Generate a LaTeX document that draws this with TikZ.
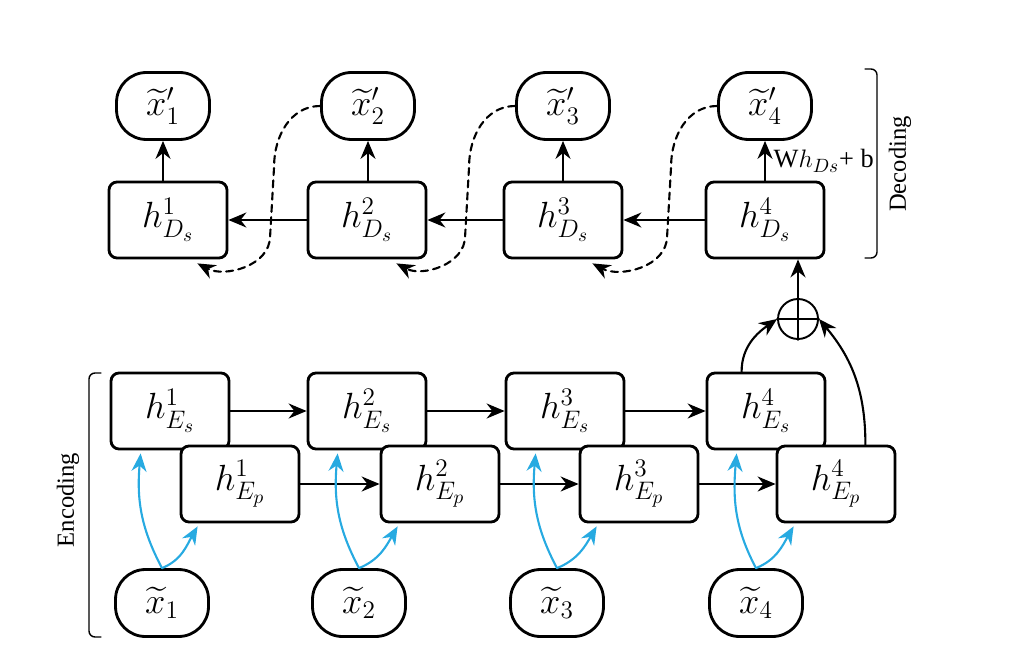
\documentclass[tikz,border=0pt]{standalone}
\usepackage{amsmath}
\usepackage{fontspec}
\setmainfont{Liberation Serif}
\usetikzlibrary{arrows.meta,calc}
\definecolor{skyblue}{RGB}{39,170,225}

\begin{document}
\begin{tikzpicture}[x=0.02cm,y=-0.02cm,line cap=round,line join=round,
    hbox/.style={draw,line width=1.6pt,rounded corners=0.16cm,fill=white,
      minimum width=2.36cm,minimum height=1.52cm,inner sep=0pt,
      font=\fontsize{21}{25}\selectfont},
    xnode/.style={draw,line width=1.6pt,rounded corners=0.6cm,fill=white,
      minimum width=1.86cm,minimum height=1.34cm,inner sep=0pt,
      font=\fontsize{21}{25}\selectfont},
    arr/.style={-{Stealth[length=0.36cm,width=0.3cm]},line width=1.2pt},
    inarr/.style={arr,skyblue},
    back/.style={arr,dash pattern=on 4pt off 3pt}]
  \useasboundingbox (0,0) rectangle (1026,658);

  % --- decoder: outputs and hidden states ---
  \node[xnode] (o1) at (163,106) {$\widetilde{x}'_{1}$};
  \node[xnode] (o2) at (368,106) {$\widetilde{x}'_{2}$};
  \node[xnode] (o3) at (563,106) {$\widetilde{x}'_{3}$};
  \node[xnode] (o4) at (765,106) {$\widetilde{x}'_{4}$};
  \node[hbox] (d1) at (168,220) {$h^{1}_{D_s}$};
  \node[hbox] (d2) at (367,220) {$h^{2}_{D_s}$};
  \node[hbox] (d3) at (563,220) {$h^{3}_{D_s}$};
  \node[hbox] (d4) at (765,220) {$h^{4}_{D_s}$};

  % --- encoder: two chains and inputs ---
  \node[hbox] (es1) at (170,411) {$h^{1}_{E_s}$};
  \node[hbox] (es2) at (367,411) {$h^{2}_{E_s}$};
  \node[hbox] (es3) at (565,411) {$h^{3}_{E_s}$};
  \node[hbox] (es4) at (766,411) {$h^{4}_{E_s}$};
  \node[hbox] (ep1) at (240,484) {$h^{1}_{E_p}$};
  \node[hbox] (ep2) at (440,484) {$h^{2}_{E_p}$};
  \node[hbox] (ep3) at (639,484) {$h^{3}_{E_p}$};
  \node[hbox] (ep4) at (836,484) {$h^{4}_{E_p}$};
  \node[xnode] (x1) at (162,603) {$\widetilde{x}_{1}$};
  \node[xnode] (x2) at (359,603) {$\widetilde{x}_{2}$};
  \node[xnode] (x3) at (557,603) {$\widetilde{x}_{3}$};
  \node[xnode] (x4) at (756,603) {$\widetilde{x}_{4}$};

  % --- sum of the last encoder states ---
  \node[draw,circle,line width=1.1pt,minimum size=0.8cm,inner sep=0pt] (plus) at (798,319) {};
  \draw[line width=1.1pt] (plus.north) -- (plus.south) (plus.west) -- (plus.east);

  % --- encoder chains ---
  \draw[arr] (es1.east) -- (es2.west);
  \draw[arr] (es2.east) -- (es3.west);
  \draw[arr] (es3.east) -- (es4.west);
  \draw[arr] (ep1.east) -- (ep2.west);
  \draw[arr] (ep2.east) -- (ep3.west);
  \draw[arr] (ep3.east) -- (ep4.west);

  % --- inputs feed both chains ---
  \draw[inarr] (x1.north) to[out=118,in=-95] ($(es1.south west)+(31,3)$);
  \draw[inarr] (x1.north) to[out=22,in=240] ($(ep1.south west)+(18,3)$);
  \draw[inarr] (x2.north) to[out=118,in=-95] ($(es2.south west)+(31,3)$);
  \draw[inarr] (x2.north) to[out=22,in=240] ($(ep2.south west)+(18,3)$);
  \draw[inarr] (x3.north) to[out=118,in=-95] ($(es3.south west)+(31,3)$);
  \draw[inarr] (x3.north) to[out=22,in=240] ($(ep3.south west)+(18,3)$);
  \draw[inarr] (x4.north) to[out=118,in=-95] ($(es4.south west)+(31,3)$);
  \draw[inarr] (x4.north) to[out=22,in=240] ($(ep4.south west)+(18,3)$);

  % --- encoder to decoder ---
  \draw[arr] ($(es4.north west)+(36,0)$) to[out=90,in=215] (plus.west);
  \draw[arr] ($(ep4.north east)+(-31,0)$) to[out=90,in=-50] (plus.east);
  \draw[arr] (plus.north) -- (plus.north |- d4.south);

  % --- decoder chain, right to left ---
  \draw[arr] (d4.west) -- (d3.east);
  \draw[arr] (d3.west) -- (d2.east);
  \draw[arr] (d2.west) -- (d1.east);
  \draw[arr] (d1.north -| o1.south) -- (o1.south);
  \draw[arr] (d2.north -| o2.south) -- (o2.south);
  \draw[arr] (d3.north -| o3.south) -- (o3.south);
  \draw[arr] (d4.north -| o4.south) -- (o4.south)
        node[midway,right=1pt,font=\fontsize{15}{18}\selectfont]{W$h_{Ds}$+ b};

  % --- outputs fed back ---
  \draw[back] (o2.west) to[out=180,in=90] ($(o2.west)+(-46,60)$) -- ($(o2.west)+(-50,130)$)
        to[out=-90,in=-28] ($(d1.south east)+(-31,4)$);
  \draw[back] (o3.west) to[out=180,in=90] ($(o3.west)+(-46,60)$) -- ($(o3.west)+(-50,130)$)
        to[out=-90,in=-28] ($(d2.south east)+(-31,4)$);
  \draw[back] (o4.west) to[out=180,in=90] ($(o4.west)+(-46,60)$) -- ($(o4.west)+(-50,130)$)
        to[out=-90,in=-28] ($(d3.south east)+(-31,4)$);

  % --- brackets ---
  \draw[line width=0.8pt,rounded corners=0.12cm] (865,69) -- (877,69) -- (877,258) -- (865,258);
  \node[rotate=90,font=\fontsize{14}{17}\selectfont] (dec) at (900,164) {Decoding};
  \draw[line width=0.8pt,rounded corners=0.12cm] (101,373) -- (89,373) -- (89,637) -- (101,637);
  \node[rotate=90,font=\fontsize{14}{17}\selectfont] (enc) at (68,500) {Encoding};
\end{tikzpicture}
\end{document}
